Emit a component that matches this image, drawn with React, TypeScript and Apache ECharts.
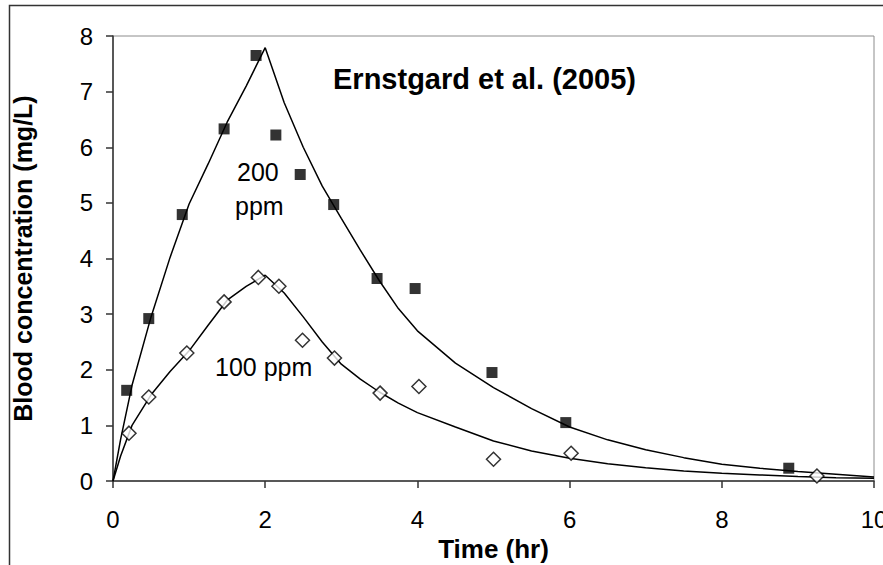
import React, { useEffect, useRef } from "react";
import * as echarts from "echarts";

const modelTime = [0, 0.1, 0.25, 0.5, 0.75, 1.0, 1.25, 1.5, 1.75, 2.0, 2.25, 2.5, 2.75, 3.0, 3.25, 3.5, 3.75, 4.0, 4.5, 5.0, 5.5, 6.0, 6.5, 7.0, 7.5, 8.0, 8.5, 9.0, 9.5, 10];
const model200 = [0, 0.75, 1.72, 2.95, 4.02, 4.98, 5.7, 6.45, 7.1, 7.79, 6.8, 6.0, 5.3, 4.72, 4.15, 3.6, 3.1, 2.7, 2.12, 1.68, 1.3, 0.97, 0.74, 0.56, 0.42, 0.3, 0.23, 0.17, 0.12, 0.07];
const model100 = [0, 0.45, 1.0, 1.55, 1.97, 2.34, 2.8, 3.25, 3.5, 3.7, 3.38, 2.95, 2.5, 2.1, 1.83, 1.6, 1.4, 1.23, 0.97, 0.72, 0.54, 0.41, 0.31, 0.24, 0.18, 0.14, 0.11, 0.08, 0.06, 0.05];

const obs200Time = [0.18, 0.47, 0.91, 1.46, 1.88, 2.14, 2.46, 2.9, 3.47, 3.97, 4.98, 5.95, 8.88];
const obs200Conc = [1.63, 2.92, 4.79, 6.33, 7.65, 6.22, 5.51, 4.97, 3.64, 3.46, 1.95, 1.05, 0.23];
const obs100Time = [0.21, 0.47, 0.97, 1.46, 1.91, 2.18, 2.49, 2.91, 3.51, 4.02, 5.0, 6.02, 9.25];
const obs100Conc = [0.86, 1.51, 2.3, 3.22, 3.66, 3.5, 2.53, 2.21, 1.58, 1.7, 0.39, 0.5, 0.09];

const xTicks = { min: 0, max: 10, interval: 2 };
const yTicks = { min: 0, max: 8, interval: 1 };

const FONT = "'Liberation Sans', Arial, sans-serif";

export default function App() {
  const ref = useRef<HTMLDivElement>(null);
  useEffect(() => {
    document.body.style.margin = "0";
    const chart = echarts.init(ref.current!, null, { renderer: "svg" });
    const zip = (xs: number[], ys: number[]) => xs.map((x, i) => [x, ys[i]]);
    chart.setOption({
      animation: false,
      backgroundColor: "#ffffff",
      grid: {
        left: 113,
        top: 36,
        right: 9,
        bottom: 84,
        containLabel: false,
        outerBoundsMode: "none",
        show: true,
        borderColor: "#8c8c8c",
        borderWidth: 1,
        backgroundColor: "transparent",
      },
      xAxis: {
        type: "value",
        min: xTicks.min,
        max: xTicks.max,
        interval: xTicks.interval,
        name: "Time (hr)",
        nameLocation: "middle",
        nameGap: 52,
        nameTextStyle: { fontFamily: FONT, fontSize: 26, fontWeight: "bold", color: "#000" },
        axisLine: { show: true, onZero: false, lineStyle: { color: "#333", width: 1.5 } },
        axisTick: { show: true, inside: false, length: 7, lineStyle: { color: "#333", width: 1.5 } },
        axisLabel: { fontFamily: FONT, fontSize: 24, color: "#000", margin: 26, showMaxLabel: true, hideOverlap: false },
        splitLine: { show: false },
      },
      yAxis: {
        type: "value",
        min: yTicks.min,
        max: yTicks.max,
        interval: yTicks.interval,
        name: "Blood concentration (mg/L)",
        nameLocation: "middle",
        nameGap: 78,
        nameRotate: 90,
        nameTextStyle: { fontFamily: FONT, fontSize: 25, fontWeight: "bold", color: "#000" },
        axisLine: { show: true, onZero: false, lineStyle: { color: "#333", width: 1.5 } },
        axisTick: { show: true, inside: false, length: 7, lineStyle: { color: "#333", width: 1.5 } },
        axisLabel: { fontFamily: FONT, fontSize: 24, color: "#000", margin: 20 },
        splitLine: { show: false },
      },
      graphic: [
        {
          type: "rect",
          shape: { x: 9.5, y: 5.5, width: 900, height: 600 },
          style: { fill: "none", stroke: "#333", lineWidth: 1.5 },
          silent: true,
        },
        {
          type: "text",
          left: 333,
          top: 64,
          style: { text: "Ernstgard et al. (2005)", font: `bold 29px ${FONT}`, fill: "#000" },
        },
        {
          type: "text",
          left: 237,
          top: 159,
          style: { text: "200", font: `25px ${FONT}`, fill: "#000" },
        },
        {
          type: "text",
          left: 235,
          top: 193,
          style: { text: "ppm", font: `25px ${FONT}`, fill: "#000" },
        },
        {
          type: "text",
          left: 215,
          top: 354,
          style: { text: "100 ppm", font: `25px ${FONT}`, fill: "#000" },
        },
      ],
      series: [
        {
          type: "line",
          data: zip(modelTime, model200),
          showSymbol: false,
          symbol: "none",
          lineStyle: { color: "#000", width: 1.5 },
          z: 2,
        },
        {
          type: "line",
          data: zip(modelTime, model100),
          showSymbol: false,
          symbol: "none",
          lineStyle: { color: "#000", width: 1.5 },
          z: 2,
        },
        {
          type: "scatter",
          data: zip(obs200Time, obs200Conc),
          symbol: "rect",
          symbolSize: 11,
          itemStyle: { color: "#000" },
          z: 3,
        },
        {
          type: "scatter",
          data: zip(obs100Time, obs100Conc),
          symbol: "diamond",
          symbolSize: 14,
          itemStyle: { color: "#fff", borderColor: "#000", borderWidth: 1.5 },
          z: 3,
        },
      ],
    });
    return () => chart.dispose();
  }, []);
  return <div ref={ref} style={{ width: 883, height: 565 }} />;
}
